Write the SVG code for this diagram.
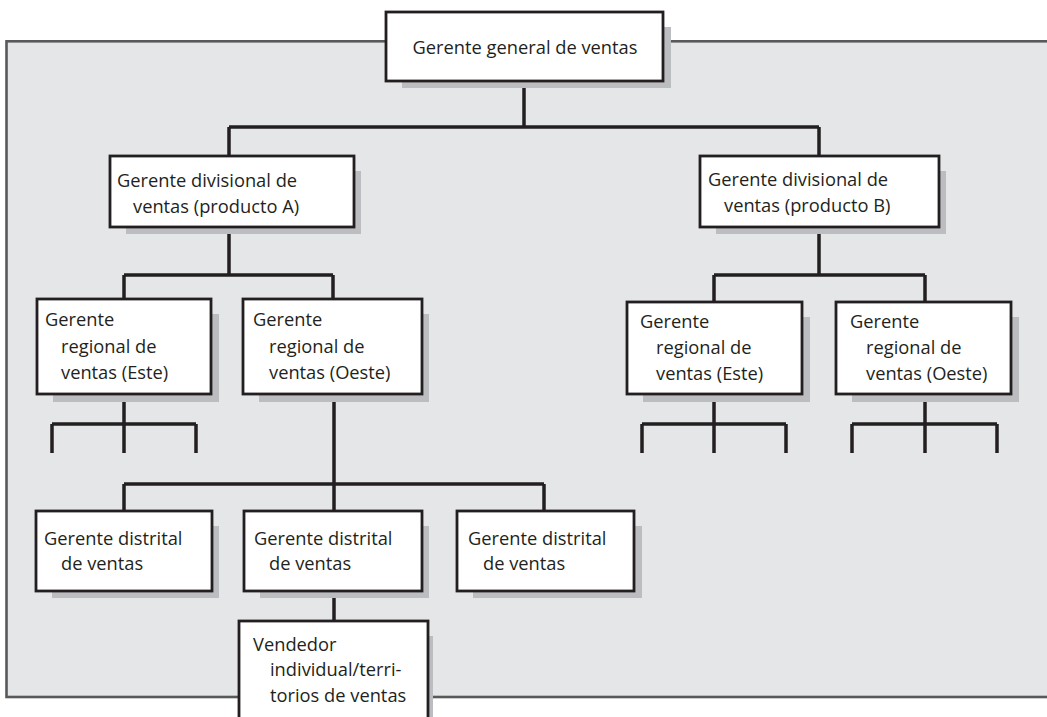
<svg xmlns="http://www.w3.org/2000/svg" width="1047" height="717" viewBox="0 0 1047 717">
<style>
.panel{fill:#e5e6e8;stroke:#58595b;stroke-width:2.6}
.sh{fill:#bcbdc0}
.box{fill:#ffffff;stroke:#231f20;stroke-width:2.8}
.ln{fill:none;stroke:#231f20;stroke-width:3.5;stroke-linecap:butt;stroke-linejoin:miter}
text{font-family:"Open Sans","Noto Sans","Liberation Sans",sans-serif;font-size:18.3px;fill:#231f20}
</style>
<rect width="1047" height="717" fill="#ffffff"/>
<rect class="panel" x="6.5" y="41.3" width="1045" height="655.7"/>
<g id="connectors">
<path class="ln" d="M524,81 V127 M229,127 H819 M229,127 V156 M819,127 V156"/>
<path class="ln" d="M229,227 V275 M124,275 H333 M124,275 V299 M333,275 V299"/>
<path class="ln" d="M819,227 V275 M714,275 H925 M714,275 V302 M925,275 V302"/>
<path class="ln" d="M124,394 V424 M52,424 H196 M52,424 V453 M124,424 V453 M196,424 V453"/>
<path class="ln" d="M714,394 V424 M642,424 H786 M642,424 V453 M714,424 V453 M786,424 V453"/>
<path class="ln" d="M925,394 V424 M852,424 H997 M852,424 V453 M925,424 V453 M997,424 V453"/>
<path class="ln" d="M334,394 V484 M124,484 H544 M124,484 V511 M334,484 V511 M544,484 V511"/>
<path class="ln" d="M334,591 V621"/>
</g>
<g id="gerente-general">
<rect class="sh" x="402" y="27" width="269" height="61"/>
<rect class="box" x="386" y="12" width="277" height="69"/>
<text x="525" y="54" text-anchor="middle">Gerente general de ventas</text>
</g>
<g id="divisional-a">
<rect class="sh" x="126" y="171" width="235" height="63"/>
<rect class="box" x="110" y="156" width="244" height="71"/>
<text x="117" y="187">Gerente divisional de</text>
<text x="133" y="213">ventas (producto A)</text>
</g>
<g id="divisional-b">
<rect class="sh" x="716" y="171" width="230" height="63"/>
<rect class="box" x="700" y="156" width="239" height="71"/>
<text x="708" y="186">Gerente divisional de</text>
<text x="724" y="212">ventas (producto B)</text>
</g>
<g id="regional-a-este">
<rect class="sh" x="53" y="314" width="166" height="88"/>
<rect class="box" x="37" y="299" width="174" height="95"/>
<text x="45" y="326">Gerente</text>
<text x="61" y="353">regional de</text>
<text x="61" y="379">ventas (Este)</text>
</g>
<g id="regional-a-oeste">
<rect class="sh" x="259" y="314" width="170" height="88"/>
<rect class="box" x="243" y="299" width="179" height="95"/>
<text x="253" y="326">Gerente</text>
<text x="269" y="353">regional de</text>
<text x="269" y="379">ventas (Oeste)</text>
</g>
<g id="regional-b-este">
<rect class="sh" x="643" y="317" width="167" height="85"/>
<rect class="box" x="627" y="302" width="175" height="92"/>
<text x="640" y="328">Gerente</text>
<text x="656" y="354">regional de</text>
<text x="656" y="380">ventas (Este)</text>
</g>
<g id="regional-b-oeste">
<rect class="sh" x="852" y="317" width="167" height="85"/>
<rect class="box" x="836" y="302" width="175" height="92"/>
<text x="850" y="328">Gerente</text>
<text x="866" y="354">regional de</text>
<text x="866" y="380">ventas (Oeste)</text>
</g>
<g id="distrital-1">
<rect class="sh" x="52" y="526" width="167" height="72"/>
<rect class="box" x="36" y="511" width="176" height="80"/>
<text x="44" y="545">Gerente distrital</text>
<text x="61" y="570">de ventas</text>
</g>
<g id="distrital-2">
<rect class="sh" x="260" y="526" width="169" height="72"/>
<rect class="box" x="244" y="511" width="178" height="80"/>
<text x="254" y="545">Gerente distrital</text>
<text x="269" y="570">de ventas</text>
</g>
<g id="distrital-3">
<rect class="sh" x="473" y="526" width="169" height="72"/>
<rect class="box" x="457" y="511" width="177" height="80"/>
<text x="468" y="545">Gerente distrital</text>
<text x="483" y="570">de ventas</text>
</g>
<g id="vendedor">
<rect class="sh" x="255" y="636" width="178" height="100"/>
<rect class="box" x="239" y="621" width="189" height="110"/>
<text x="253" y="651">Vendedor</text>
<text x="270" y="676">individual/terri-</text>
<text x="270" y="702">torios de ventas</text>
</g>
</svg>
